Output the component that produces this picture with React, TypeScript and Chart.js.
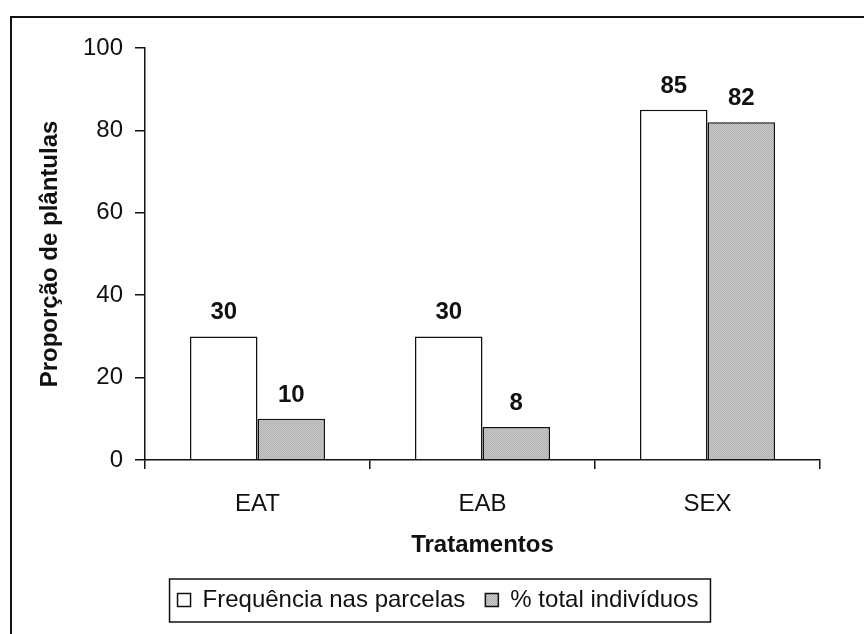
import React, { useEffect, useRef } from "react";
import { Chart, registerables } from "chart.js";

Chart.register(...registerables);

const categories = ["EAT", "EAB", "SEX"];
const frequenciaValues = [30, 30, 85];
const totalValues = [10, 8, 82];
const seriesNames = ["Frequência nas parcelas", "% total indivíduos"];
const yTicks = [0, 20, 40, 60, 80, 100];
const xTitle = "Tratamentos";
const yTitle = "Proporção de plântulas";

const FONT = "Arial, 'Liberation Sans', sans-serif";

function makeStipple(): CanvasPattern | string {
  const c = document.createElement("canvas");
  c.width = 2;
  c.height = 2;
  const g = c.getContext("2d");
  if (!g) return "#bdbdbd";
  g.fillStyle = "#cbcbcb";
  g.fillRect(0, 0, 2, 2);
  g.fillStyle = "#afafaf";
  g.fillRect(0, 0, 1, 1);
  g.fillRect(1, 1, 1, 1);
  const p = g.createPattern(c, "repeat");
  return p || "#bdbdbd";
}

const legendShift = {
  id: "legendShift",
  afterLayout(chart: any) {
    const lg = chart.legend;
    if (!lg) return;
    const dx = 12;
    lg.left += dx;
    lg.right += dx;
    (lg.legendHitBoxes || []).forEach((h: any) => (h.left += dx));
  },
};

const legendBorder = {
  id: "legendBorder",
  afterDraw(chart: any) {
    const lg = chart.legend;
    if (!lg || !lg.legendHitBoxes || !lg.legendHitBoxes.length) return;
    const hb = lg.legendHitBoxes;
    let l = Infinity, r = -Infinity, t = Infinity, b = -Infinity;
    hb.forEach((h: any) => {
      l = Math.min(l, h.left);
      r = Math.max(r, h.left + h.width);
      t = Math.min(t, h.top);
      b = Math.max(b, h.top + h.height);
    });
    const ctx = chart.ctx;
    ctx.save();
    ctx.strokeStyle = "#111";
    ctx.lineWidth = 1.5;
    ctx.strokeRect(l - 8, t - 9, r - l + 20, b - t + 19);
    ctx.restore();
  },
};

const valueLabels = {
  id: "valueLabels",
  afterDatasetsDraw(chart: any) {
    const ctx = chart.ctx;
    ctx.save();
    ctx.fillStyle = "#111";
    ctx.font = `bold 24px ${FONT}`;
    ctx.textAlign = "center";
    ctx.textBaseline = "alphabetic";
    chart.data.datasets.forEach((ds: any, di: number) => {
      const meta = chart.getDatasetMeta(di);
      meta.data.forEach((bar: any, i: number) => {
        ctx.fillText(String(ds.data[i]), bar.x, bar.y - 17);
      });
    });
    ctx.restore();
  },
};

export default function App() {
  const ref = useRef<HTMLCanvasElement | null>(null);

  useEffect(() => {
    if (!ref.current) return;
    const stipple = makeStipple();
    const chart = new Chart(ref.current, {
      type: "bar",
      data: {
        labels: categories,
        datasets: [
          {
            label: seriesNames[0],
            data: frequenciaValues,
            backgroundColor: "#ffffff",
            borderColor: "#111111",
            borderWidth: 1.5,
            barPercentage: 1,
            categoryPercentage: 0.6,
          },
          {
            label: seriesNames[1],
            data: totalValues,
            backgroundColor: stipple as any,
            borderColor: "#111111",
            borderWidth: 1.5,
            barPercentage: 1,
            categoryPercentage: 0.6,
          },
        ],
      },
      options: {
        responsive: false,
        animation: false,
        devicePixelRatio: 1,
        layout: { padding: { left: 20, right: 44, top: 30, bottom: 12 } },
        plugins: {
          tooltip: { enabled: false },
          legend: {
            position: "bottom",
            labels: {
              color: "#111",
              font: { family: FONT, size: 24 },
              boxWidth: 13,
              boxHeight: 13,
              padding: 20,
            },
          },
        },
        scales: {
          x: {
            afterFit: (s: any) => {
              s.height = 108;
            },
            grid: {
              display: true,
              drawOnChartArea: false,
              drawTicks: true,
              tickLength: 9,
              color: "#111",
              lineWidth: 1.5,
              offset: true,
            },
            border: { display: true, color: "#111", width: 1.5 },
            ticks: {
              color: "#111",
              font: { family: FONT, size: 24 },
              padding: 21,
            },
            title: {
              display: true,
              text: xTitle,
              color: "#111",
              font: { family: FONT, size: 24, weight: "bold" },
              padding: { top: 0, bottom: 8 },
            },
          },
          y: {
            min: 0,
            max: 100,
            afterFit: (s: any) => {
              s.width = 113;
            },
            afterBuildTicks: (s: any) => {
              s.ticks = yTicks.map((v) => ({ value: v }));
            },
            grid: {
              display: true,
              drawOnChartArea: false,
              drawTicks: true,
              tickLength: 10,
              color: "#111",
              lineWidth: 1.5,
            },
            border: { display: true, color: "#111", width: 1.5 },
            ticks: {
              color: "#111",
              font: { family: FONT, size: 24 },
              padding: 12,
            },
            title: {
              display: true,
              text: yTitle,
              color: "#111",
              font: { family: FONT, size: 24, weight: "bold" },
              padding: { top: 4, bottom: 4 },
            },
          },
        },
      },
      plugins: [legendShift, legendBorder, valueLabels],
    });
    return () => chart.destroy();
  }, []);

  return (
    <div
      style={{
        position: "fixed",
        left: 10,
        top: 16,
        width: 854,
        height: 618,
        boxSizing: "border-box",
        borderLeft: "2px solid #111",
        borderTop: "2px solid #111",
        background: "#fff",
      }}
    >
      <canvas ref={ref} width={852} height={616} style={{ width: 852, height: 616, display: "block" }} />
    </div>
  );
}
